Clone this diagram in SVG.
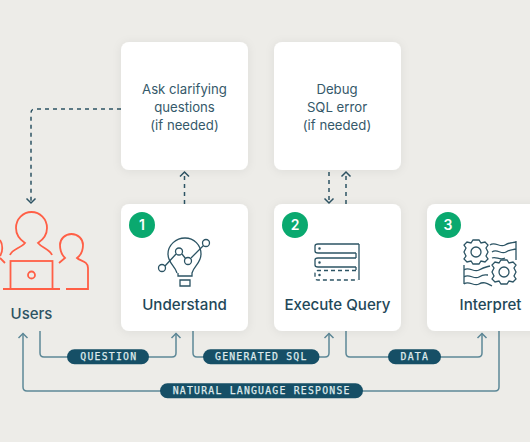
<svg xmlns="http://www.w3.org/2000/svg" width="530" height="442" viewBox="0 0 530 442">
<defs>
<filter id="sh" x="-20%" y="-20%" width="140%" height="140%"><feDropShadow dx="0" dy="1" stdDeviation="5" flood-color="#000" flood-opacity="0.07"/></filter>
<marker id="a" markerUnits="userSpaceOnUse" markerWidth="12" markerHeight="12" refX="10" refY="6" orient="auto" viewBox="0 0 12 12"><path d="M5.500 1.500 10 6 5.500 10.500" fill="none" stroke="#5d8897" stroke-width="1.500"/></marker>
<marker id="d" markerUnits="userSpaceOnUse" markerWidth="12" markerHeight="12" refX="10" refY="6" orient="auto" viewBox="0 0 12 12"><path d="M5.500 1.500 10 6 5.500 10.500" fill="none" stroke="#2d5363" stroke-width="1.500"/></marker>
</defs>
<style>
.card{fill:#fff;filter:url(#sh)}
.lbl{font-family:"Inter","Noto Sans",sans-serif;font-size:13.200px;fill:#35596a;text-anchor:middle}
.ttl{font-family:"Inter","Noto Sans",sans-serif;font-size:15.100px;font-weight:500;fill:#1f4859;text-anchor:middle}
.num{font-family:"Inter","Noto Sans",sans-serif;font-size:14px;font-weight:600;fill:#fff;text-anchor:middle}
.pill{fill:#164f66}
.pt{font-family:"DejaVu Sans Mono",monospace;font-size:9.800px;fill:#dfeaec;stroke:#dfeaec;stroke-width:.25px;text-anchor:middle;letter-spacing:1.220px}
.c{fill:none;stroke:#5d8897;stroke-width:1.500}
.dsh{fill:none;stroke:#2d5363;stroke-width:1.500;stroke-dasharray:4 4}
.ic{fill:none;stroke:#2c5464;stroke-width:1.300}
.or{fill:none;stroke:#ff5f46;stroke-width:1.800}
</style>
<rect width="530" height="442" fill="#edece8"/>
<g id="connectors">
<path class="dsh" d="M121 109H35Q31 109 31 113V203" marker-end="url(#d)"/>
<path class="dsh" d="M184.500 204V172" marker-end="url(#d)"/>
<path class="dsh" d="M329 172V203" marker-end="url(#d)"/>
<path class="dsh" d="M346 204V172" marker-end="url(#d)"/>
<path class="c" d="M40 331V353Q40 357 44 357H172Q176 357 176 353V333.500" marker-end="url(#a)"/>
<path class="c" d="M193 331V353Q193 357 197 357H325Q329 357 329 353V333.500" marker-end="url(#a)"/>
<path class="c" d="M346 331V353Q346 357 350 357H478Q482 357 482 353V333.500" marker-end="url(#a)"/>
<path class="c" d="M499 331V387Q499 391 495 391H27Q23 391 23 387V333.500" marker-end="url(#a)"/>
</g>
<g id="ask"><rect class="card" x="121" y="42" width="127" height="128" rx="8"/>
<text class="lbl" x="184.500" y="94">Ask clarifying</text><text class="lbl" x="184.500" y="112">questions</text><text class="lbl" x="184.500" y="129.500">(if needed)</text></g>
<g id="debug"><rect class="card" x="274" y="42" width="127" height="128" rx="8"/>
<text class="lbl" x="337" y="94">Debug</text><text class="lbl" x="337" y="112">SQL error</text><text class="lbl" x="337" y="129.500">(if needed)</text></g>
<g id="users">
<path class="or" d="M10 255C12 249 21 248 25 243C19 239 16 234 16 228C16 219 23 212 31.500 212C40 212 47 219 47 228C47 234 44 239 38 243C42 248 50 249 52 255"/>
<path class="or" d="M59 263L65 258C62 255 60 250 60 245C60 239 65 234 71.500 234C78 234 83 239 83 245C83 250 81 255 77 258C80 261 88 261 88 268V289H66"/>
<path class="or" d="M0 240C3 244 3 252 0 256M0 258L5 263"/>
<rect class="or" x="10.500" y="261" width="42" height="28"/>
<path class="or" d="M3 289H60"/>
<circle class="or" cx="31.500" cy="275" r="3.500"/>
<text class="ttl" x="31.500" y="319" style="font-size:15px;fill:#2d5363">Users</text>
</g>
<g id="understand"><rect class="card" x="121" y="204" width="127" height="127" rx="8"/>
<circle cx="142" cy="225" r="13" fill="#0aa96f"/><text class="num" x="142" y="230">1</text>
<g class="ic">
<path d="M177 273C175 266 168 263 168 254C168 245 176 238 185 238C194 238 201 245 201 254C201 263 194 266 192 273V276H178V273"/>
<path d="M180 280H190V286H180Z"/>
<path d="M165 266L176 254M182 254L185.500 258.500M191 258L203.500 245.500"/>
<circle cx="162" cy="268" r="3.500" fill="#fff"/><circle cx="179" cy="251.500" r="3.500" fill="#fff"/><circle cx="188" cy="261" r="3.500" fill="#fff"/><circle cx="206" cy="243" r="3.500" fill="#fff"/>
</g>
<text class="ttl" x="184.500" y="310">Understand</text></g>
<g id="execute"><rect class="card" x="274" y="204" width="127" height="127" rx="8"/>
<circle cx="295" cy="225" r="13" fill="#0aa96f"/><text class="num" x="295" y="230">2</text>
<g class="ic">
<path d="M359 244H318Q315 244 315 246V251Q315 253 318 253H356"/>
<path d="M356 258H318Q315 258 315 260V265Q315 267 318 267H356"/>
<path d="M359 244V280M356 253V258M356 267V270"/>
<path d="M356 270.500H318Q315 270.500 315 273V277Q315 280 318 280H358" stroke-dasharray="4 3"/>
<circle cx="319.500" cy="248.500" r=".6"/><circle cx="319.500" cy="262.500" r=".6"/><circle cx="319.500" cy="275" r=".6"/>
</g>
<text class="ttl" x="337.500" y="310">Execute Query</text></g>
<g id="interpret"><rect class="card" x="427" y="204" width="127" height="127" rx="8"/>
<circle cx="448" cy="225" r="13" fill="#0aa96f"/><text class="num" x="448" y="230">3</text>
<g class="ic">
<circle cx="476" cy="252" r="5"/>
<path d="M473 240H479L481 243 485 242 488 245 486 248 488 252 486 256 488 259 485 262 481 261 479 264H473L471 261 467 262 464 259 466 256 464 252 466 248 464 245 467 242 471 243Z"/>
<circle cx="504" cy="272" r="5"/>
<path d="M501 260H507L509 263 513 262 516 265 514 268 516 272 514 276 516 279 513 282 509 281 507 284H501L499 281 495 282 492 279 494 276 492 272 494 268 492 265 495 262 499 263Z"/>
<path d="M490 245C495 241 500 248 505 245S512 243 516 242M492 252C497 248 501 255 506 252S512 250 516 249M492 258C496 256 500 261 505 258M516 241V260"/>
<path d="M464 265V284M464 270C469 266 474 273 479 270S486 267 490 266M464 277C469 273 474 280 479 277S484 275 488 275M464 284C469 280 474 287 479 284S488 284 492 286"/>
</g>
<text class="ttl" x="490.500" y="310">Interpret</text></g>
<g id="pills">
<rect class="pill" x="67" y="349.300" width="82" height="15" rx="7.500"/><text class="pt" x="108.800" y="360.300">QUESTION</text>
<rect class="pill" x="203" y="349.300" width="116.500" height="15" rx="7.500"/><text class="pt" x="261.300" y="360.300">GENERATED SQL</text>
<rect class="pill" x="388" y="349.300" width="53" height="15" rx="7.500"/><text class="pt" x="414.800" y="360.300">DATA</text>
<rect class="pill" x="160" y="383.300" width="203" height="15" rx="7.500"/><text class="pt" x="261.700" y="394.300">NATURAL LANGUAGE RESPONSE</text>
</g>
</svg>
